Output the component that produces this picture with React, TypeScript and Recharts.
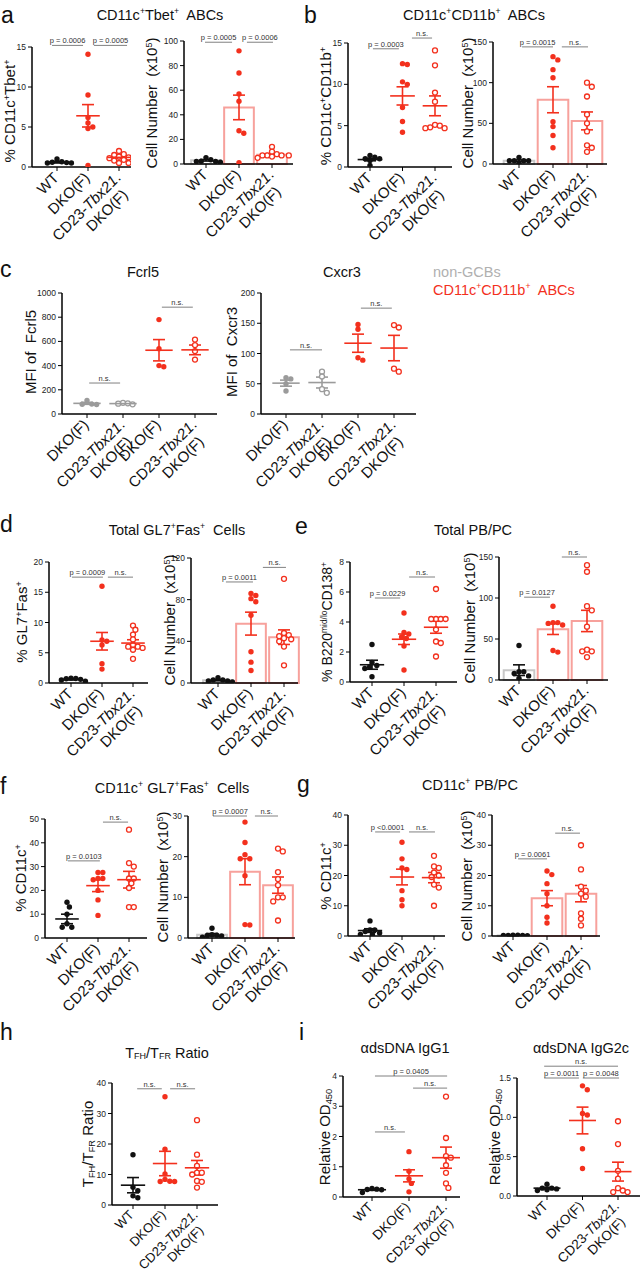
import React from 'react';
import { ComposedChart, Scatter, XAxis, YAxis, ErrorBar, ReferenceLine, ReferenceArea } from 'recharts';

const FONT = '"Liberation Sans", Arial, Helvetica, sans-serif';
const RED = '#f3301d';
const PINK = '#f7a19c';
const BARGRAY = '#c8c8c8';
const BLACK = '#111111';
const GRAY = '#9b9b9b';

// ---------- categories ----------
const categories3 = ['WT', 'DKO(F)', 'CD23-Tbx21. DKO(F)'];
const categoriesC = ['DKO(F)', 'CD23-Tbx21. DKO(F)', 'DKO(F)', 'CD23-Tbx21. DKO(F)'];

// ---------- a ----------
const a1Values = [[0.6, 0.5, 0.55, 1.0, 0.65, 0.5], [14.1, 9.0, 6.2, 5.5, 5.0, 4.8, 0.2], [2.0, 1.6, 1.5, 1.3, 1.2, 1.1, 0.9, 0.8, 0.5, 0.5]];
const a1Means = [0.6, 6.4, 1.2];
const a1Sems = [0.1, 1.4, 0.15];
const a1Ticks = [0, 5, 10, 15];
const a2Values = [[3.5, 2.2, 2.0, 5.2, 2.0, 1.5], [92, 74, 57, 51, 27, 25, 1], [14, 10, 8, 7, 7, 7, 7, 6, 5]];
const a2Means = [3, 46, 7.5];
const a2Sems = [0.6, 10, 1];
const a2Ticks = [0, 20, 40, 60, 80, 100];

// ---------- b ----------
const b1Values = [[1.0, 1.0, 1.2, 1.4, 0.8, 0.2], [12.5, 12.4, 10.3, 10.0, 7.2, 5.5, 4.2], [14.1, 12.3, 9.0, 7.9, 5.1, 5.0, 4.8, 4.7, 4.7]];
const b1Means = [0.9, 8.6, 7.4];
const b1Sems = [0.15, 1.1, 1.2];
const b1Ticks = [0, 5, 10, 15];
const b2Values = [[4, 4, 4, 8, 4, 1], [132, 128, 116, 106, 52, 46, 35, 20], [100, 95, 83, 61, 50, 40, 23, 20, 15]];
const b2Means = [4, 79, 53];
const b2Sems = [1, 16, 11];
const b2Ticks = [0, 50, 100, 150];

// ---------- c ----------
const c1Values = [[112, 82, 80, 78], [92, 88, 85, 80], [780, 540, 400, 390], [615, 570, 520, 450]];
const c1Means = [88, 86, 527, 530];
const c1Sems = [8, 3, 88, 40];
const c1Ticks = [0, 200, 400, 600, 800, 1000];
const c2Values = [[60, 58, 50, 38], [70, 62, 41, 35], [148, 140, 93, 89], [147, 143, 75, 70]];
const c2Means = [51, 52, 117, 109];
const c2Sems = [5, 9, 15, 21];
const c2Ticks = [0, 50, 100, 150, 200];

// ---------- d ----------
const d1Values = [[0.8, 0.75, 0.7, 0.6, 0.5, 0.3], [16, 7.1, 6.9, 6.3, 3.2, 2.3], [9.5, 8.8, 8.0, 7.2, 6.3, 6.0, 5.8, 5.5, 6.0, 4.0]];
const d1Means = [0.6, 6.9, 6.6];
const d1Sems = [0.1, 1.45, 0.55];
const d1Ticks = [0, 5, 10, 15, 20];
const d2Values = [[3, 3, 5, 2, 1, 2], [86, 84, 81, 78, 65, 30, 20, 12], [100, 48, 46, 45, 43, 42, 40, 35, 17]];
const d2Means = [2.7, 57, 44];
const d2Sems = [0.6, 11, 7];
const d2Ticks = [0, 40, 80, 120];

// ---------- e ----------
const e1Values = [[2.5, 1.3, 1.0, 1.1, 0.9, 0.35], [4.6, 3.3, 3.2, 3.0, 2.9, 2.4, 0.8], [6.2, 4.2, 4.2, 4.2, 4.2, 3.5, 2.7, 2.6, 1.7]];
const e1Means = [1.15, 2.85, 3.65];
const e1Sems = [0.3, 0.35, 0.4];
const e1Ticks = [0, 2, 4, 6, 8];
const e2Values = [[42, 10, 10, 8, 5, 2], [90, 67, 69, 70, 70, 36, 34], [140, 132, 90, 85, 65, 37, 35, 35, 28]];
const e2Means = [12, 62, 72];
const e2Sems = [6.5, 6.5, 13];
const e2Ticks = [0, 50, 100, 150];

// ---------- f ----------
const f1Values = [[15, 13, 10, 6, 4.5, 4.5], [27.5, 27.5, 25, 25, 24.5, 20, 16, 9.5], [45.5, 31.5, 30, 25, 25, 23, 21, 13, 13]];
const f1Means = [8, 22, 24.5];
const f1Sems = [2, 2.5, 3.5];
const f1Ticks = [0, 10, 20, 30, 40, 50];
const f2Values = [[2.4, 0.8, 0.7, 0.6, 0.5, 0.2], [28.5, 23.5, 20.5, 19.5, 19.5, 15.3, 3.3, 3.2], [22, 21.3, 16.2, 14.5, 13, 10, 10, 9, 4.3]];
const f2Means = [0.8, 16.3, 13];
const f2Sems = [0.3, 3.2, 2];
const f2Ticks = [0, 10, 20, 30];

// ---------- g ----------
const g1Values = [[5, 2, 2, 1.5, 1, 0.5, 0.5], [31, 25.5, 22.5, 22, 15, 12, 10], [26.5, 23, 22.5, 21, 20, 19.5, 17, 16, 10]];
const g1Means = [1.8, 19.5, 19.3];
const g1Sems = [0.6, 2.6, 1.7];
const g1Ticks = [0, 10, 20, 30, 40];
const g2Values = [[0.3, 0.3, 0.2, 0.2, 0.2, 0.1], [21.5, 20.3, 17.3, 14, 10, 6.2, 4.3], [30, 22, 16.3, 15, 14, 13, 7.5, 5.7, 3.5]];
const g2Means = [0.2, 12.5, 14];
const g2Sems = [0.05, 2.5, 2.7];
const g2Ticks = [0, 10, 20, 30, 40];

// ---------- h ----------
const hValues = [[16.5, 5.8, 4.7, 3.0, 2.4], [35.5, 18.3, 10.2, 8.4, 7.8, 7.7, 7.7], [27.8, 16.5, 12.8, 10.6, 10.6, 10, 7.9, 7.6, 5.7]];
const hMeans = [6.5, 13.6, 12.2];
const hSems = [2.5, 4, 2.4];
const hTicks = [0, 10, 20, 30, 40];

// ---------- i ----------
const i1Values = [[0.28, 0.26, 0.25, 0.24, 0.15], [1.5, 0.85, 0.6, 0.45, 0.17], [3.32, 1.95, 1.35, 1.3, 1.05, 0.8, 0.45, 0.3]];
const i1Means = [0.24, 0.7, 1.3];
const i1Sems = [0.02, 0.2, 0.35];
const i1Ticks = [0, 1, 2, 3, 4];
const i2Values = [[0.15, 0.1, 0.1, 0.09, 0.08, 0.07], [1.4, 1.35, 1.05, 1.03, 0.6, 0.35], [0.95, 0.66, 0.32, 0.22, 0.1, 0.07, 0.05, 0.05]];
const i2Means = [0.1, 0.96, 0.31];
const i2Sems = [0.01, 0.17, 0.12];
const i2Ticks = [0, 0.5, 1.0, 1.5];

// ---------- significance annotations (category units, value units) ----------
type Sig = { x1: number; x2: number; y: number; text: string };
const a1Sig: Sig[] = [{ x1: -0.16, x2: 0.84, y: 15.2, text: 'p = 0.0006' }, { x1: 1.19, x2: 2.26, y: 15.2, text: 'p = 0.0005' }];
const a2Sig: Sig[] = [{ x1: -0.03, x2: 0.79, y: 99, text: 'p = 0.0005' }, { x1: 1.24, x2: 2.03, y: 99, text: 'p = 0.0006' }];
const b1Sig: Sig[] = [{ x1: 0.09, x2: 0.89, y: 14.3, text: 'p = 0.0003' }, { x1: 1.29, x2: 1.91, y: 15.6, text: 'n.s.' }];
const b2Sig: Sig[] = [{ x1: 0.09, x2: 1.0, y: 144, text: 'p = 0.0015' }, { x1: 1.26, x2: 2.03, y: 144, text: 'n.s.' }];
const c1Sig: Sig[] = [{ x1: 0.06, x2: 0.92, y: 256, text: 'n.s.' }, { x1: 2.08, x2: 2.94, y: 883, text: 'n.s.' }];
const c2Sig: Sig[] = [{ x1: 0.11, x2: 1.0, y: 106, text: 'n.s.' }, { x1: 2.08, x2: 2.94, y: 175, text: 'n.s.' }];
const d1Sig: Sig[] = [{ x1: 0.03, x2: 1.03, y: 17.5, text: 'p = 0.0009' }, { x1: 1.19, x2: 2.0, y: 17.5, text: 'n.s.' }];
const d2Sig: Sig[] = [{ x1: 0.24, x2: 1.06, y: 97, text: 'p = 0.0011' }, { x1: 1.36, x2: 2.06, y: 111, text: 'n.s.' }];
const e1Sig: Sig[] = [{ x1: 0.09, x2: 0.88, y: 5.6, text: 'p = 0.0229' }, { x1: 1.16, x2: 1.97, y: 7.0, text: 'n.s.' }];
const e2Sig: Sig[] = [{ x1: 0.15, x2: 0.91, y: 101, text: 'p = 0.0127' }, { x1: 1.26, x2: 2.0, y: 150, text: 'n.s.' }];
const f1Sig: Sig[] = [{ x1: 0.03, x2: 1.06, y: 32.4, text: 'p = 0.0103' }, { x1: 1.16, x2: 1.97, y: 48.7, text: 'n.s.' }];
const f2Sig: Sig[] = [{ x1: 0.03, x2: 1.06, y: 30, text: 'p = 0.0007' }, { x1: 1.3, x2: 2.0, y: 30, text: 'n.s.' }];
const g1Sig: Sig[] = [{ x1: 0.16, x2: 0.94, y: 34.4, text: 'p <0.0001' }, { x1: 1.22, x2: 2.03, y: 34.4, text: 'n.s.' }];
const g2Sig: Sig[] = [{ x1: 0.15, x2: 1.0, y: 25.5, text: 'p = 0.0061' }, { x1: 1.24, x2: 1.97, y: 34, text: 'n.s.' }];
const hSig: Sig[] = [{ x1: 0.13, x2: 0.9, y: 38.1, text: 'n.s.' }, { x1: 1.16, x2: 1.94, y: 38.1, text: 'n.s.' }];
const i1Sig: Sig[] = [{ x1: 0.08, x2: 2.03, y: 4.0, text: 'p = 0.0405' }, { x1: 1.11, x2: 2.03, y: 3.6, text: 'n.s.' }, { x1: 0.08, x2: 0.89, y: 2.15, text: 'n.s.' }];
const i2Sig: Sig[] = [{ x1: -0.08, x2: 2.0, y: 1.65, text: 'n.s.' }, { x1: -0.08, x2: 0.9, y: 1.5, text: 'p = 0.0011' }, { x1: 1.01, x2: 2.03, y: 1.5, text: 'p = 0.0048' }];

// ---------- styles ----------
type Sty = { c: string; open: boolean; bar?: string };
const STY3: Sty[] = [{ c: BLACK, open: false, bar: BARGRAY }, { c: RED, open: false, bar: PINK }, { c: RED, open: true, bar: PINK }];
const STYC: Sty[] = [{ c: GRAY, open: false }, { c: GRAY, open: true }, { c: RED, open: false }, { c: RED, open: true }];

type Cfg = {
  id: string; xa: number; xe: number; c0: number; s: number; yt: number; y0: number;
  ticks: number[]; values: number[][]; means: number[]; sems: number[]; sigs: Sig[];
  bars: boolean; sty: Sty[]; labels: string[]; fmt?: (v: number) => string; lfs?: number;
};

const charts: Cfg[] = [
  { id: 'a1', xa: 32, xe: 131, c0: 57, s: 31, yt: 47, y0: 167, ticks: a1Ticks, values: a1Values, means: a1Means, sems: a1Sems, sigs: a1Sig, bars: false, sty: STY3, labels: categories3 },
  { id: 'a2', xa: 184, xe: 293, c0: 206, s: 33, yt: 41, y0: 164, ticks: a2Ticks, values: a2Values, means: a2Means, sems: a2Sems, sigs: a2Sig, bars: true, sty: STY3, labels: categories3 },
  { id: 'b1', xa: 348, xe: 452, c0: 370, s: 32.5, yt: 43, y0: 167, ticks: b1Ticks, values: b1Values, means: b1Means, sems: b1Sems, sigs: b1Sig, bars: false, sty: STY3, labels: categories3 },
  { id: 'b2', xa: 493, xe: 607, c0: 519, s: 34, yt: 42, y0: 164, ticks: b2Ticks, values: b2Values, means: b2Means, sems: b2Sems, sigs: b2Sig, bars: true, sty: STY3, labels: categories3 },
  { id: 'c1', xa: 62, xe: 217, c0: 87, s: 36, yt: 293, y0: 414, ticks: c1Ticks, values: c1Values, means: c1Means, sems: c1Sems, sigs: c1Sig, bars: false, sty: STYC, labels: categoriesC },
  { id: 'c2', xa: 261, xe: 416, c0: 286, s: 36, yt: 293, y0: 414, ticks: c2Ticks, values: c2Values, means: c2Means, sems: c2Sems, sigs: c2Sig, bars: false, sty: STYC, labels: categoriesC },
  { id: 'd1', xa: 49, xe: 148, c0: 71, s: 31, yt: 562, y0: 683, ticks: d1Ticks, values: d1Values, means: d1Means, sems: d1Sems, sigs: d1Sig, bars: false, sty: STY3, labels: categories3 },
  { id: 'd2', xa: 191, xe: 298, c0: 218, s: 33, yt: 558, y0: 683, ticks: d2Ticks, values: d2Values, means: d2Means, sems: d2Sems, sigs: d2Sig, bars: true, sty: STY3, labels: categories3 },
  { id: 'e1', xa: 350, xe: 457, c0: 372, s: 32, yt: 562, y0: 682, ticks: e1Ticks, values: e1Values, means: e1Means, sems: e1Sems, sigs: e1Sig, bars: false, sty: STY3, labels: categories3 },
  { id: 'e2', xa: 499, xe: 608, c0: 519, s: 34, yt: 557, y0: 680, ticks: e2Ticks, values: e2Values, means: e2Means, sems: e2Sems, sigs: e2Sig, bars: true, sty: STY3, labels: categories3 },
  { id: 'f1', xa: 45, xe: 147, c0: 67, s: 31, yt: 819, y0: 938, ticks: f1Ticks, values: f1Values, means: f1Means, sems: f1Sems, sigs: f1Sig, bars: false, sty: STY3, labels: categories3 },
  { id: 'f2', xa: 188, xe: 295, c0: 212, s: 33, yt: 816, y0: 938, ticks: f2Ticks, values: f2Values, means: f2Means, sems: f2Sems, sigs: f2Sig, bars: true, sty: STY3, labels: categories3 },
  { id: 'g1', xa: 348, xe: 445, c0: 370, s: 32, yt: 815, y0: 936, ticks: g1Ticks, values: g1Values, means: g1Means, sems: g1Sems, sigs: g1Sig, bars: false, sty: STY3, labels: categories3 },
  { id: 'g2', xa: 492, xe: 600, c0: 513, s: 34, yt: 815, y0: 936, ticks: g2Ticks, values: g2Values, means: g2Means, sems: g2Sems, sigs: g2Sig, bars: true, sty: STY3, labels: categories3 },
  { id: 'h', xa: 112, xe: 218, c0: 133, s: 32, yt: 1083, y0: 1205, ticks: hTicks, values: hValues, means: hMeans, sems: hSems, sigs: hSig, bars: false, sty: STY3, labels: categories3, lfs: 13 },
  { id: 'i1', xa: 343, xe: 460, c0: 372, s: 37, yt: 1076, y0: 1197, ticks: i1Ticks, values: i1Values, means: i1Means, sems: i1Sems, sigs: i1Sig, bars: false, sty: STY3, labels: categories3, lfs: 13.5 },
  { id: 'i2', xa: 517, xe: 640, c0: 547, s: 35.5, yt: 1078, y0: 1196, ticks: i2Ticks, values: i2Values, means: i2Means, sems: i2Sems, sigs: i2Sig, bars: false, sty: STY3, labels: categories3, lfs: 13.5, fmt: (v: number) => v.toFixed(1) },
];

// ---------- helpers ----------
function swarm(vals: number[], pxY: number, s: number): number[] {
  const minD = 4.8;
  const order = vals.map((_, i) => i).sort((a, b) => vals[b] - vals[a]);
  const placed: [number, number][] = [];
  const out = new Array(vals.length).fill(0);
  for (const i of order) {
    const y = vals[i] * pxY;
    let chosen = 0;
    for (let k = 0; k < 80; k++) {
      const m = k === 0 ? 0 : k % 2 ? (k + 1) / 2 : -k / 2;
      const x = m * minD * 0.5;
      if (placed.every(([px, py]) => Math.hypot(px - x, py - y) >= minD)) { chosen = x; break; }
    }
    placed.push([chosen, y]);
    out[i] = chosen / s;
  }
  return out;
}

function renderLine(line: string) {
  const idx = line.indexOf('Tbx21');
  if (idx < 0) return line;
  return (
    <>
      {line.slice(0, idx)}
      <tspan fontStyle="italic">Tbx21</tspan>
      {line.slice(idx + 5)}
    </>
  );
}

const makeTick = (labels: string[], fs: number) => (props: any) => {
  const { x, y, payload } = props;
  const label = labels[Math.round(payload.value)];
  if (label === undefined) return <g />;
  const lines = label.split(' ');
  return (
    <g transform={`translate(${x - 5},${y - 2})`}>
      <text transform="rotate(-45)" textAnchor="end" fontSize={fs} fontFamily={FONT} fill="#111">
        <tspan x={0} dy="0.72em">{renderLine(lines[0])}</tspan>
        {lines[1] ? <tspan x={-7} dy="1.15em">{lines[1]}</tspan> : null}
      </text>
    </g>
  );
};

const dotShape = (color: string, open: boolean) => (p: any) => (
  <circle cx={p.cx} cy={p.cy} r={open ? 2.5 : 2.7} fill={open ? '#ffffff' : color} stroke={color} strokeWidth={open ? 1.3 : 0} />
);
const meanShape = (color: string, hw: number) => (p: any) =>
  hw > 0 ? <line x1={p.cx - hw} x2={p.cx + hw} y1={p.cy} y2={p.cy} stroke={color} strokeWidth={1.6} /> : <g />;

function DotChart({ cfg }: { cfg: Cfg }) {
  const YW = 45, MT = 32, MR = 12, XH = 100;
  const plotW = cfg.xe - cfg.xa;
  const plotH = cfg.y0 - cfg.yt;
  const ymax = cfg.ticks[cfg.ticks.length - 1];
  const d0 = -(cfg.c0 - cfg.xa) / cfg.s;
  const d1 = d0 + plotW / cfg.s;
  const pxY = plotH / ymax;
  const width = YW + plotW + MR;
  const height = MT + plotH + XH;
  const hw = cfg.bars ? 0 : cfg.s * 0.38;
  return (
    <div style={{ position: 'absolute', left: cfg.xa - YW, top: cfg.yt - MT }}>
      <ComposedChart width={width} height={height} margin={{ top: MT, right: MR, left: 0, bottom: 0 }}>
        <XAxis type="number" dataKey="x" domain={[d0, d1]} allowDataOverflow ticks={cfg.labels.map((_, i) => i)} interval={0}
          height={XH} tick={makeTick(cfg.labels, cfg.lfs || 15)} tickSize={4} tickMargin={2}
          axisLine={{ stroke: '#000', strokeWidth: 1.5 }} tickLine={{ stroke: '#000', strokeWidth: 1 }} />
        <YAxis type="number" dataKey="y" domain={[0, ymax]} allowDataOverflow ticks={cfg.ticks} interval={0} width={YW}
          tickSize={4} tickMargin={2} tickFormatter={cfg.fmt}
          tick={{ fontSize: 8.5, fill: '#222', fontFamily: FONT }}
          axisLine={{ stroke: '#000', strokeWidth: 1.5 }} tickLine={{ stroke: '#000', strokeWidth: 1 }} />
        {cfg.bars && cfg.means.map((m, i) => (
          <ReferenceArea key={`bar${i}`} x1={i - 0.45} x2={i + 0.45} y1={0} y2={m} fill="none"
            stroke={cfg.sty[i].bar} strokeWidth={2} ifOverflow="visible" />
        ))}
        {cfg.values.map((vals, i) => {
          const off = swarm(vals, pxY, cfg.s);
          const data = vals.map((v, j) => ({ x: i + off[j], y: v }));
          return <Scatter key={`pts${i}`} data={data} isAnimationActive={false} shape={dotShape(cfg.sty[i].c, cfg.sty[i].open)} />;
        })}
        {cfg.means.map((m, i) => (
          <Scatter key={`mean${i}`} data={[{ x: i, y: m, err: cfg.sems[i] }]} isAnimationActive={false} shape={meanShape(cfg.sty[i].c, hw)}>
            <ErrorBar dataKey="err" direction="y" width={6} stroke={cfg.sty[i].c} strokeWidth={1.6} isAnimationActive={false} />
          </Scatter>
        ))}
        {cfg.sigs.map((sg, k) => (
          <ReferenceLine key={`sig${k}`} segment={[{ x: sg.x1, y: sg.y }, { x: sg.x2, y: sg.y }]} stroke="#808080" strokeWidth={1}
            ifOverflow="visible"
            label={{ value: sg.text, position: 'top', fontSize: 7.5, fill: '#333', fontFamily: FONT, offset: 2 }} />
        ))}
      </ComposedChart>
    </div>
  );
}

// ---------- text ----------
function Rich({ s }: { s: string }) {
  const parts = s.split(/(\^\{[^}]*\}|_\{[^}]*\})/).filter(Boolean);
  return (
    <>
      {parts.map((p, i) => {
        if (p.startsWith('^{')) return <span key={i} style={{ fontSize: '0.6em', verticalAlign: '0.65em', lineHeight: 0 }}>{p.slice(2, -1)}</span>;
        if (p.startsWith('_{')) return <span key={i} style={{ fontSize: '0.62em', verticalAlign: '-0.2em', lineHeight: 0 }}>{p.slice(2, -1)}</span>;
        return <span key={i}>{p}</span>;
      })}
    </>
  );
}

type T = { x: number; y: number; s: string; size: number; color?: string; rot?: boolean; anchor?: 'start' | 'middle' };
function Txt({ t }: { t: T }) {
  const tr = t.rot ? 'translate(-50%,-50%) rotate(-90deg)' : t.anchor === 'start' ? 'translate(0,-50%)' : 'translate(-50%,-50%)';
  return (
    <div style={{ position: 'absolute', left: t.x, top: t.y, fontSize: t.size, fontFamily: FONT, color: t.color || '#111', whiteSpace: 'pre', lineHeight: 1.15, transform: tr }}>
      <Rich s={t.s} />
    </div>
  );
}

const letters: T[] = [
  { x: 1, y: 15, s: 'a', size: 23, anchor: 'start' },
  { x: 304, y: 15, s: 'b', size: 23, anchor: 'start' },
  { x: 0, y: 269, s: 'c', size: 23, anchor: 'start' },
  { x: 0, y: 524, s: 'd', size: 23, anchor: 'start' },
  { x: 295, y: 526, s: 'e', size: 23, anchor: 'start' },
  { x: 0, y: 786, s: 'f', size: 23, anchor: 'start' },
  { x: 297, y: 784, s: 'g', size: 23, anchor: 'start' },
  { x: 0, y: 1032, s: 'h', size: 23, anchor: 'start' },
  { x: 299, y: 1032, s: 'i', size: 23, anchor: 'start' },
];

const titles: T[] = [
  { x: 160, y: 15, s: 'CD11c^{+}Tbet^{+}  ABCs', size: 14.5 },
  { x: 474, y: 15, s: 'CD11c^{+}CD11b^{+}  ABCs', size: 14.5 },
  { x: 143, y: 272, s: 'Fcrl5', size: 14.5 },
  { x: 342, y: 272, s: 'Cxcr3', size: 14.5 },
  { x: 433, y: 272, s: 'non-GCBs', size: 14.5, color: '#b0b0b0', anchor: 'start' },
  { x: 433, y: 290, s: 'CD11c^{+}CD11b^{+}  ABCs', size: 14.5, color: RED, anchor: 'start' },
  { x: 177, y: 530, s: 'Total GL7^{+}Fas^{+}  Cells', size: 14.5 },
  { x: 473, y: 530, s: 'Total PB/PC', size: 14.5 },
  { x: 172, y: 788, s: 'CD11c^{+} GL7^{+}Fas^{+}  Cells', size: 14.5 },
  { x: 470, y: 785, s: 'CD11c^{+} PB/PC', size: 14.5 },
  { x: 167, y: 1053, s: 'T_{FH}/T_{FR} Ratio', size: 14.5 },
  { x: 405, y: 1048, s: '\u03b1dsDNA IgG1', size: 14.5 },
  { x: 581, y: 1048, s: '\u03b1dsDNA IgG2c', size: 14.5 },
];

const yTitles: T[] = [
  { x: 10, y: 111, s: '% CD11c^{+}Tbet^{+}', size: 15, rot: true },
  { x: 152, y: 103, s: 'Cell Number  (x10^{5})', size: 15, rot: true },
  { x: 326, y: 106, s: '% CD11c^{+}CD11b^{+}', size: 15, rot: true },
  { x: 468, y: 103, s: 'Cell Number  (x10^{5})', size: 15, rot: true },
  { x: 31, y: 352, s: 'MFI of  Fcrl5', size: 15, rot: true },
  { x: 232, y: 352, s: 'MFI of  Cxcr3', size: 15, rot: true },
  { x: 22, y: 622, s: '% GL7^{+}Fas^{+}', size: 15, rot: true },
  { x: 170, y: 620, s: 'Cell Number  (x10^{5})', size: 15, rot: true },
  { x: 327, y: 622, s: '% B220^{mid/lo}CD138^{+}', size: 14, rot: true },
  { x: 470, y: 618, s: 'Cell Number  (x10^{5})', size: 15, rot: true },
  { x: 21, y: 878, s: '% CD11c^{+}', size: 15, rot: true },
  { x: 163, y: 877, s: 'Cell Number  (x10^{5})', size: 15, rot: true },
  { x: 326, y: 876, s: '% CD11c^{+}', size: 15, rot: true },
  { x: 467, y: 876, s: 'Cell Number  (x10^{5})', size: 15, rot: true },
  { x: 88, y: 1144, s: 'T_{FH}/T_{FR} Ratio', size: 15, rot: true },
  { x: 325, y: 1137, s: 'Relative OD_{450}', size: 15, rot: true },
  { x: 495, y: 1137, s: 'Relative OD_{450}', size: 15, rot: true },
];

export default function App() {
  return (
    <div style={{ position: 'absolute', left: 0, top: 0, width: 642, height: 1275, background: '#fff', overflow: 'hidden', fontFamily: FONT }}>
      {charts.map((c) => <DotChart key={c.id} cfg={c} />)}
      {[...letters, ...titles, ...yTitles].map((t, i) => <Txt key={i} t={t} />)}
    </div>
  );
}
